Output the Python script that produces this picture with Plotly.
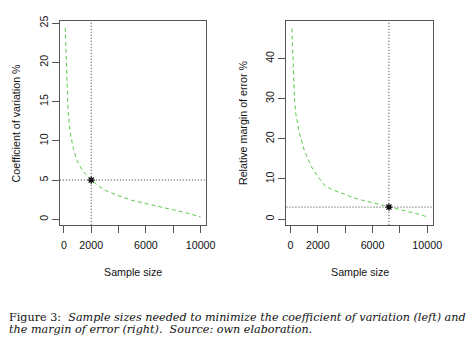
import plotly.graph_objects as go

# ---- data ----
cv_n = [100, 200, 300, 400, 500, 700, 1000, 1400, 2000, 2500, 3000, 4000, 5000, 6000, 7000, 8000, 9000, 10000]
cv_pct = [24.4, 17.6, 14.0, 12.0, 10.7, 8.9, 7.3, 6.1, 5.0, 4.3, 3.7, 3.0, 2.4, 2.0, 1.6, 1.2, 0.8, 0.3]

me_n = [100, 200, 300, 400, 650, 1000, 1500, 2000, 2500, 3000, 3600, 4000, 4800, 6000, 7200, 8400, 9200, 10000]
me_pct = [47.5, 36.0, 29.5, 26.0, 21.4, 17.2, 13.2, 10.6, 8.4, 7.4, 6.6, 6.1, 5.1, 4.1, 3.0, 2.05, 1.4, 0.55]

cv_opt_n, cv_opt_val = 2000, 5
me_opt_n, me_opt_val = 7200, 3

x_tickvals = [0, 2000, 4000, 6000, 8000, 10000]
x_ticktext = ["0", "2000", "", "6000", "", "10000"]
cv_ticks = [0, 5, 10, 15, 20, 25]
me_ticks = [0, 10, 20, 30, 40]

x_title = "Sample size"
cv_title = "Coefficient of variation %"
me_title = "Relative margin of error %"
caption1 = "Figure 3:  <i>Sample sizes needed to minimize the coefficient of variation (left) and</i>"
caption2 = "<i>the margin of error (right).  Source: own elaboration.</i>"

W, H = 474, 343
GREEN = "#5CC94C"
FONT = "Liberation Sans"
FS = 10.7

fig = go.Figure()

panels = [
    dict(x=cv_n, y=cv_pct, on=cv_opt_n, ov=cv_opt_val, xa="x", ya="y",
         dom=[61 / W, 210 / W], yr=[-0.7, 25.3], yt=cv_ticks, title=cv_title, tx=16),
    dict(x=me_n, y=me_pct, on=me_opt_n, ov=me_opt_val, xa="x2", ya="y2",
         dom=[292 / W, 441 / W], yr=[-1.4, 49.4], yt=me_ticks, title=me_title, tx=247),
]

ydom = [(H - 223) / H, (H - 16) / H]

for i, p in enumerate(panels):
    sfx = "" if i == 0 else "2"
    fig.add_trace(go.Scatter(x=p["x"], y=p["y"], mode="lines", xaxis=p["xa"], yaxis=p["ya"],
                             line=dict(color=GREEN, width=1, dash="4px,3px"), showlegend=False,
                             hoverinfo="skip"))
    fig.add_trace(go.Scatter(x=[p["on"]], y=[p["ov"]], mode="markers", xaxis=p["xa"], yaxis=p["ya"],
                             marker=dict(symbol="asterisk-open", size=6, color="black",
                                         line=dict(color="black", width=1.2)),
                             showlegend=False, hoverinfo="skip"))
    # dotted reference lines
    fig.add_shape(type="line", xref=p["xa"], yref=p["ya"] + " domain", x0=p["on"], x1=p["on"], y0=0, y1=1,
                  line=dict(color="#333333", width=1, dash="1px,2px"))
    fig.add_shape(type="line", xref=p["xa"] + " domain", yref=p["ya"], x0=0, x1=1, y0=p["ov"], y1=p["ov"],
                  line=dict(color="#333333", width=1, dash="1px,2px"))

    axis_common = dict(showline=True, mirror=True, linecolor="#555555", linewidth=1,
                       ticks="outside", ticklen=7, tickcolor="#555555", tickwidth=1,
                       showgrid=False, zeroline=False,
                       tickfont=dict(family=FONT, size=FS, color="#111111"))
    fig.update_layout(**{
        "xaxis" + sfx: dict(domain=p["dom"], range=[-296, 10396], tickmode="array",
                            tickvals=x_tickvals, ticktext=x_ticktext, anchor="y" + sfx,
                            ticklabelstandoff=3, **axis_common),
        "yaxis" + sfx: dict(domain=ydom, range=p["yr"], tickmode="array", tickvals=p["yt"],
                            tickangle=-90, anchor="x" + sfx, **axis_common),
    })
    # axis titles
    fig.add_annotation(text=x_title, xref="paper", yref="paper",
                       x=(p["dom"][0] + p["dom"][1]) / 2, y=(H - 270.5) / H,
                       xanchor="center", yanchor="middle", showarrow=False,
                       font=dict(family=FONT, size=FS, color="#111111"))
    fig.add_annotation(text=p["title"], xref="paper", yref="paper",
                       x=p["tx"] / W, y=(H - 119.5) / H, textangle=-90,
                       xanchor="center", yanchor="middle", showarrow=False,
                       font=dict(family=FONT, size=FS, color="#111111"))

# caption
for txt, yy in [(caption1, 317.5), (caption2, 329)]:
    fig.add_annotation(text=txt, xref="paper", yref="paper", x=7 / W, y=(H - yy) / H,
                       xanchor="left", yanchor="middle", showarrow=False,
                       font=dict(family="DejaVu Serif", size=11.2, color="#111111"))

fig.update_layout(width=W, height=H, margin=dict(l=0, r=0, t=0, b=0),
                  paper_bgcolor="white", plot_bgcolor="white")

fig.write_html("out.html")
